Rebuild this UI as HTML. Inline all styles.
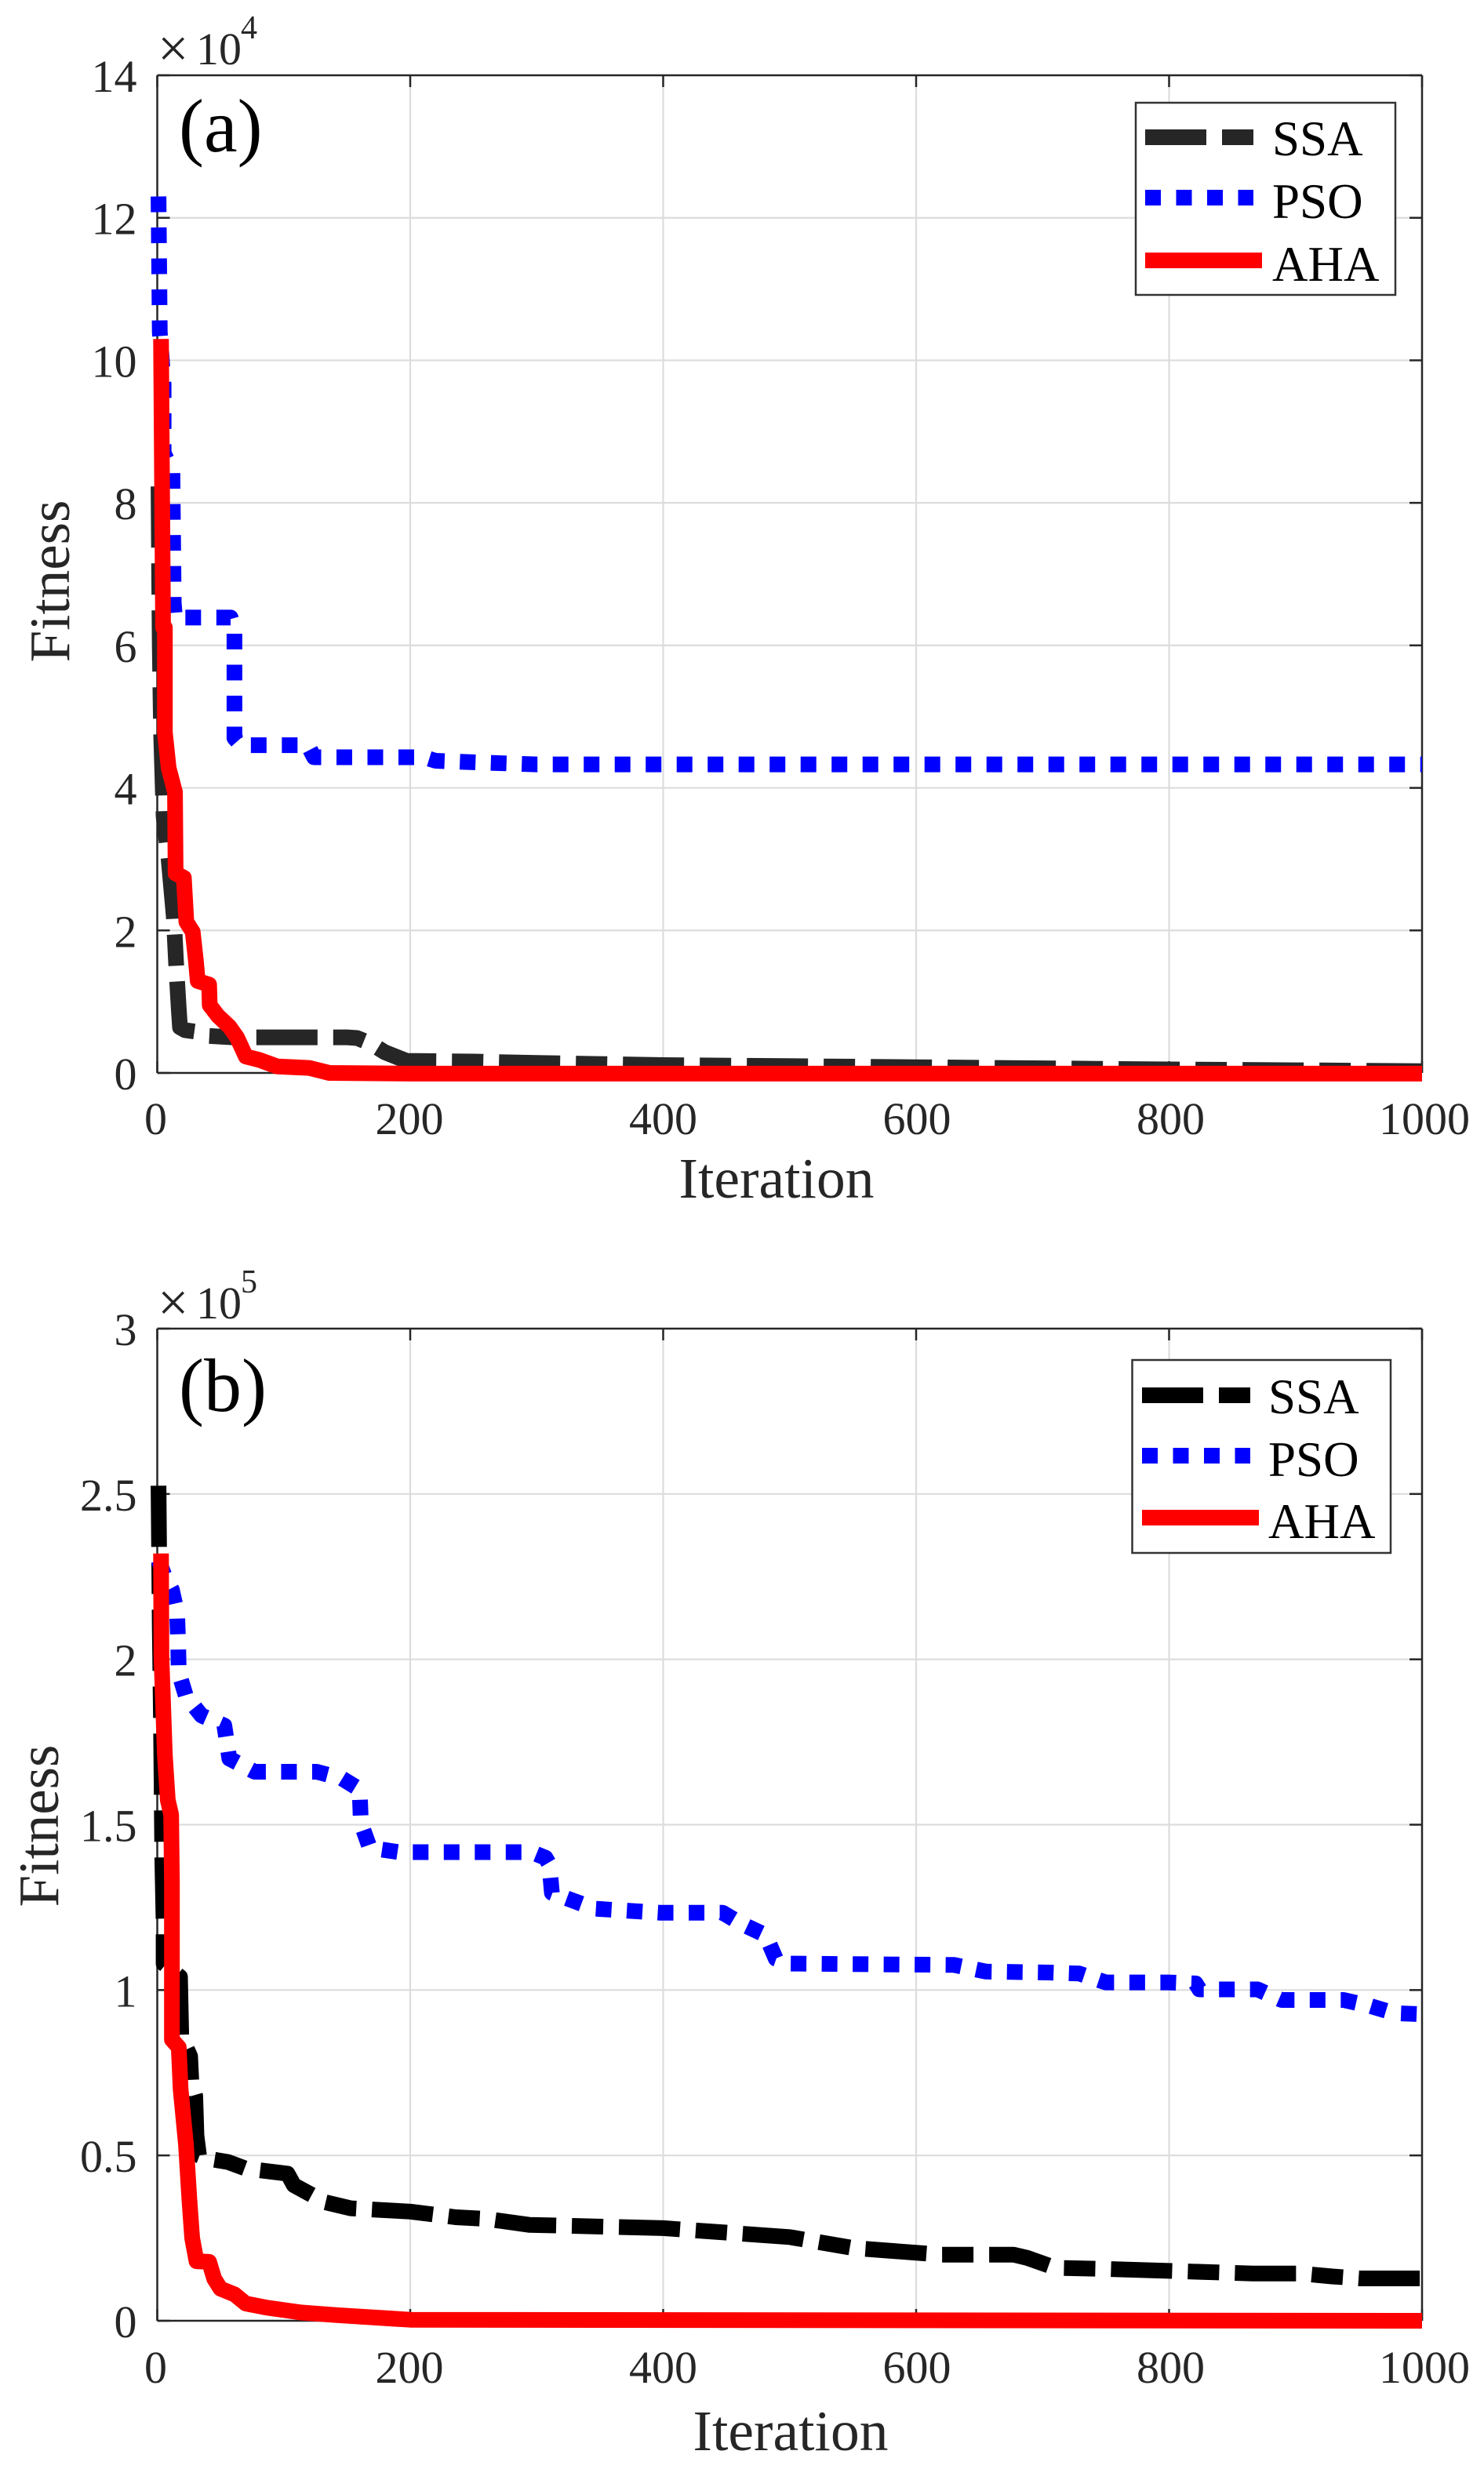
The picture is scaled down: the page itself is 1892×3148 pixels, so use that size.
<!DOCTYPE html>
<html lang="en">
<head>
<meta charset="utf-8">
<title>Fitness vs Iteration</title>
<style>
html,body{margin:0;padding:0;background:#fff;}
svg{display:block;}
text{font-family:"Liberation Serif","DejaVu Serif",serif;}
</style>
</head>
<body>
<svg id="figure" xmlns="http://www.w3.org/2000/svg" width="1892" height="3148" viewBox="0 0 1892 3148">
  <rect x="0" y="0" width="1892" height="3148" fill="#ffffff"/>
  <g id="panel-a"></g>
  <g id="panel-b"></g>

  <g fill="#262626">
    <text x="228" y="193" font-size="96" fill="#000">(a)</text>
    <text x="201" y="85" font-size="70">×</text>
    <text x="250" y="82" font-size="58">10</text>
    <text x="307" y="49" font-size="42">4</text>
    <text x="990" y="1527" font-size="73.5" text-anchor="middle">Iteration</text>
    <text transform="translate(88 741) rotate(-90)" font-size="73" text-anchor="middle">Fitness</text>
  </g>
  <g fill="#262626">
    <text x="228" y="1799" font-size="96" fill="#000">(b)</text>
    <text x="201" y="1684" font-size="70">×</text>
    <text x="250" y="1681" font-size="58">10</text>
    <text x="307" y="1648" font-size="42">5</text>
    <text x="1008" y="3124" font-size="73.5" text-anchor="middle">Iteration</text>
    <text transform="translate(74 2328) rotate(-90)" font-size="73" text-anchor="middle">Fitness</text>
  </g>

  <g>
    <rect x="1448" y="131" width="331" height="245" fill="#fff" stroke="#333" stroke-width="2.5"/>
    <line x1="1460" y1="175" x2="1598" y2="175" stroke="#262626" stroke-width="20" stroke-dasharray="78 20 40 20"/>
    <text x="1622" y="198" font-size="63" fill="#000">SSA</text>
    <line x1="1460" y1="252" x2="1598" y2="252" stroke="#0000ff" stroke-width="20" stroke-dasharray="20 19.5"/>
    <text x="1622" y="278" font-size="63" fill="#000">PSO</text>
    <line x1="1460" y1="332" x2="1609" y2="332" stroke="#ff0000" stroke-width="20"/>
    <text x="1622" y="358" font-size="63" fill="#000">AHA</text>
  </g>
  <g>
    <rect x="1443.5" y="1734" width="329.5" height="246" fill="#fff" stroke="#333" stroke-width="2.5"/>
    <line x1="1456" y1="1779" x2="1594" y2="1779" stroke="#000" stroke-width="20" stroke-dasharray="78 20 40 20"/>
    <text x="1617" y="1802" font-size="63" fill="#000">SSA</text>
    <line x1="1456" y1="1856" x2="1594" y2="1856" stroke="#0000ff" stroke-width="20" stroke-dasharray="20 19.5"/>
    <text x="1617" y="1882" font-size="63" fill="#000">PSO</text>
    <line x1="1456" y1="1935" x2="1605" y2="1935" stroke="#ff0000" stroke-width="20"/>
    <text x="1617" y="1961" font-size="63" fill="#000">AHA</text>
  </g>
</svg>

<script>
// Shared x axis
const xTicks = [0, 200, 400, 600, 800, 1000];

// Panel (a): fitness in units of 1e4
const aYTicks = [0, 2, 4, 6, 8, 10, 12, 14];
const aSsaIter = [1, 1.5, 2, 3, 5, 9, 13, 15, 17, 18, 22, 30, 40, 60, 100, 150, 158, 169, 180, 197, 250, 300, 400, 600, 800, 1000];
const aSsaFit = [8.23, 7, 6, 4.8, 3.6, 3, 2.2, 1.5, 0.9, 0.64, 0.6, 0.58, 0.52, 0.5, 0.5, 0.5, 0.49, 0.41, 0.29, 0.17, 0.16, 0.14, 0.11, 0.08, 0.05, 0.025];
const aPsoIter = [1, 2, 5, 5, 12, 13, 14, 18, 58, 61, 61, 66, 119, 124, 211, 220, 250, 300, 1000];
const aPsoFit = [12.3, 10.4, 9.66, 8.7, 8.45, 6.6, 6.39, 6.39, 6.39, 6.2, 4.7, 4.6, 4.6, 4.43, 4.43, 4.38, 4.36, 4.33, 4.33];
const aAhaIter = [3, 4.6, 6, 6, 9, 14, 14.5, 21, 23, 28, 30.5, 32, 41, 41.5, 48, 57, 63, 70, 81, 95, 120, 136, 200, 1000];
const aAhaFit = [10.3, 6.25, 6.25, 4.78, 4.28, 3.94, 2.8, 2.74, 2.12, 1.98, 1.58, 1.29, 1.24, 0.95, 0.8, 0.65, 0.5, 0.23, 0.18, 0.09, 0.07, 0.0, -0.01, -0.01];

// Panel (b): fitness in units of 1e5
const bYTicks = [0, 0.5, 1, 1.5, 2, 2.5, 3];
const bYTickLabels = ['0', '0.5', '1', '1.5', '2', '2.5', '3'];
const bSsaIter = [1, 2, 3, 4, 5, 5, 18, 19, 26, 27, 30, 31, 33, 40, 56, 70, 103, 108, 133, 153, 200, 236, 260, 294, 400, 500, 550, 620, 677, 688, 710, 748, 866, 904, 929, 951, 1000];
const bSsaFit = [2.525, 2.1, 1.8, 1.4, 1.2, 1.08, 1.04, 0.86, 0.8, 0.72, 0.68, 0.56, 0.5, 0.49, 0.48, 0.46, 0.445, 0.41, 0.358, 0.34, 0.33, 0.313, 0.308, 0.29, 0.28, 0.253, 0.22, 0.2, 0.2, 0.19, 0.16, 0.157, 0.143, 0.143, 0.134, 0.128, 0.128];
const bPsoIter = [1, 6, 11.6, 15.7, 16.5, 17, 22.6, 35, 53, 57, 77, 126, 146, 160, 161, 168, 191, 296, 307, 310, 312, 329, 346, 397, 447, 462, 481, 489, 500, 630, 655, 705, 729, 750, 799, 821, 824, 846, 870, 877, 889, 938, 959, 978, 1000];
const bPsoFit = [2.3, 2.25, 2.21, 2.14, 2.05, 1.96, 1.89, 1.83, 1.8, 1.7, 1.66, 1.66, 1.64, 1.607, 1.505, 1.43, 1.417, 1.417, 1.4, 1.38, 1.294, 1.27, 1.246, 1.234, 1.234, 1.2, 1.166, 1.095, 1.08, 1.076, 1.056, 1.053, 1.05, 1.023, 1.023, 1.02, 1.002, 1.002, 1.002, 0.99, 0.97, 0.97, 0.952, 0.93, 0.927];
const bAhaIter = [3, 3.3, 6, 8.3, 11, 11.6, 11.6, 17, 18.5, 22.7, 25.4, 27.6, 31, 41, 45, 50, 61, 70, 86, 114, 142, 200, 1000];
const bAhaFit = [2.32, 2.01, 1.71, 1.575, 1.53, 1.325, 0.85, 0.827, 0.7, 0.533, 0.365, 0.25, 0.18, 0.178, 0.127, 0.097, 0.08, 0.052, 0.04, 0.025, 0.017, 0.003, 0];

const SVG_NS = 'http://www.w3.org/2000/svg';

function svgEl(tag, parent) {
  const el = document.createElementNS(SVG_NS, tag);
  parent.appendChild(el);
  return el;
}

function drawLine(parent, name, x1, y1, x2, y2, stroke, width) {
  const el = svgEl('line', parent);
  
  
  el.setAttribute('x1', x1);
  el.setAttribute('y1', y1);
  el.setAttribute('x2', x2);
  el.setAttribute('y2', y2);
  el.setAttribute('stroke', stroke);
  el.setAttribute('stroke-width', width);
  return el;
}

function drawLabel(parent, name, x, y, anchor, content) {
  const el = svgEl('text', parent);
  
  
  el.setAttribute('x', x);
  el.setAttribute('y', y);
  el.setAttribute('text-anchor', anchor);
  el.setAttribute('font-size', '58');
  el.setAttribute('fill', '#262626');
  el.textContent = content;
  return el;
}

function drawSeries(parent, name, iters, fits, xScale, yScale, color, dash) {
  const el = svgEl('polyline', parent);
  
  
  el.setAttribute('points', iters.map(function (it, i) {
    return xScale(it).toFixed(1) + ',' + yScale(fits[i]).toFixed(1);
  }).join(' '));
  el.setAttribute('fill', 'none');
  el.setAttribute('stroke', color);
  el.setAttribute('stroke-width', '20');
  el.setAttribute('stroke-linejoin', 'round');
  if (dash) el.setAttribute('stroke-dasharray', dash);
  return el;
}

function drawPanel(prefix, group, box, yMax, yTicks, yLabels, ssa, pso, aha, ssaColor) {
  const xScale = function (v) { return box.left + (v / 1000) * (box.right - box.left); };
  const yScale = function (v) { return box.bottom - (v / yMax) * (box.bottom - box.top); };

  xTicks.forEach(function (t) {
    if (t > 0 && t < 1000) drawLine(group, prefix + '-x-grid-' + t, xScale(t), box.top, xScale(t), box.bottom, '#dcdcdc', 2.2);
  });
  yTicks.forEach(function (t) {
    if (t > 0 && t < yMax) drawLine(group, prefix + '-y-grid-' + t, box.left, yScale(t), box.right, yScale(t), '#dcdcdc', 2.2);
  });

  drawLine(group, prefix + '-x-axis', box.left, box.bottom, box.right, box.bottom, '#262626', 2.5);
  drawLine(group, prefix + '-y-axis', box.left, box.top, box.left, box.bottom, '#262626', 2.5);
  drawLine(group, prefix + '-top-border', box.left, box.top, box.right, box.top, '#262626', 2.5);
  drawLine(group, prefix + '-right-border', box.right, box.top, box.right, box.bottom, '#262626', 2.5);

  xTicks.forEach(function (t) {
    drawLine(group, prefix + '-x-tick-' + t, xScale(t), box.bottom, xScale(t), box.bottom - 15, '#262626', 2.5);
    drawLine(group, prefix + '-x-top-tick-' + t, xScale(t), box.top, xScale(t), box.top + 15, '#262626', 2.5);
    drawLabel(group, prefix + '-x-tick-label-' + t, xScale(t) - 2 + t * 0.005, box.bottom + box.xLabelGap, 'middle', String(t));
  });
  yTicks.forEach(function (t, i) {
    drawLine(group, prefix + '-y-tick-' + t, box.left, yScale(t), box.left + 16, yScale(t), '#262626', 2.5);
    drawLine(group, prefix + '-y-right-tick-' + t, box.right, yScale(t), box.right - 16, yScale(t), '#262626', 2.5);
    drawLabel(group, prefix + '-y-tick-label-' + t, 174.5, yScale(t) + 21, 'end', yLabels[i]);
  });

  drawSeries(group, prefix + '-ssa-line', ssa[0], ssa[1], xScale, yScale, ssaColor, '78 20 40 20');
  drawSeries(group, prefix + '-pso-line', pso[0], pso[1], xScale, yScale, '#0000ff', '20 19.5');
  drawSeries(group, prefix + '-aha-line', aha[0], aha[1], xScale, yScale, '#ff0000', null);
}

drawPanel('panel-a', document.getElementById('panel-a'),
  { left: 200.5, right: 1813, top: 96, bottom: 1368, xLabelGap: 78 },
  14, aYTicks, aYTicks.map(String),
  [aSsaIter, aSsaFit], [aPsoIter, aPsoFit], [aAhaIter, aAhaFit], '#262626');

drawPanel('panel-b', document.getElementById('panel-b'),
  { left: 200.5, right: 1813, top: 1694, bottom: 2959, xLabelGap: 79 },
  3, bYTicks, bYTickLabels,
  [bSsaIter, bSsaFit], [bPsoIter, bPsoFit], [bAhaIter, bAhaFit], '#000000');
</script>
</body>
</html>
